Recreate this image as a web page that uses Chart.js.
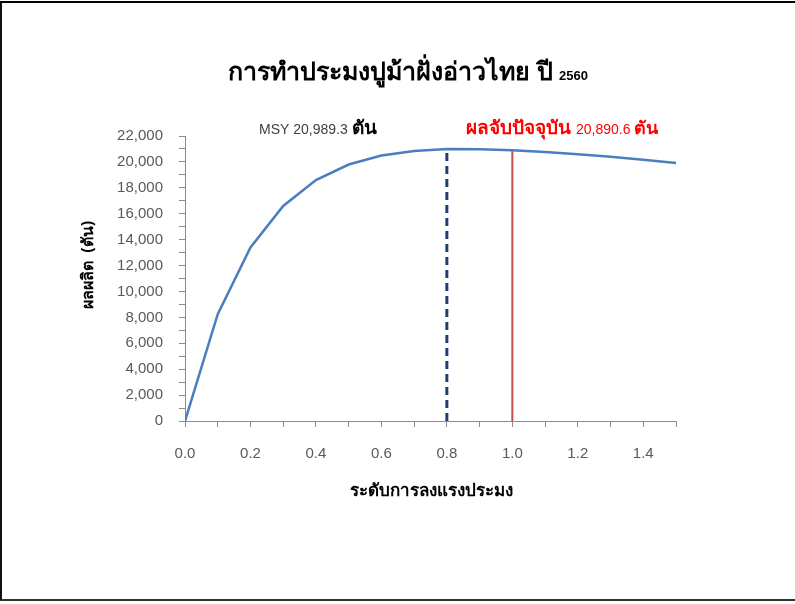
<!DOCTYPE html>
<html>
<head>
<meta charset="utf-8">
<script src="https://cdn.jsdelivr.net/npm/chart.js@4"></script>
<style>
  body { margin: 0; background: #fff; }
  #wrap { position: relative; width: 795px; height: 604px; }
  #frame { position: absolute; left: 0; top: 1px; width: 795px; height: 600px;
           border-top: 2px solid #000; border-left: 2px solid #111; border-bottom: 2px solid #333;
           box-sizing: border-box; pointer-events: none; }
</style>
</head>
<body>
<div id="wrap">
  <canvas id="mcChart" width="795" height="604"></canvas>
  <div id="frame"></div>
</div>
<script>
// fishing effort level (x) and yield in tonnes (y)
const effort = [0.0, 0.1, 0.2, 0.3, 0.4, 0.5, 0.6, 0.7, 0.8, 0.9, 1.0, 1.1, 1.2, 1.3, 1.4, 1.5];
const yieldTon = [0, 8250, 13400, 16600, 18600, 19800, 20500, 20850, 20989.3, 20970, 20890.6, 20760, 20590, 20400, 20170, 19920];

const msyEffort = 0.8;
const msyValue = 20989.3;
const currentEffort = 1.0;
const currentValue = 20890.6;

const titleMain = "การทำประมงปูม้าฝั่งอ่าวไทย ปี ";
const titleYear = "2560";
const yTitle = "ผลผลิต  (ตัน)";
const xTitle = "ระดับการลงแรงประมง";

const thaiFont = "'Noto Sans', 'DejaVu Sans', sans-serif";
const numFont = "'Liberation Sans', Arial, sans-serif";

function drawRuns(ctx, runs, x, y) {
  let cx = x;
  runs.forEach(r => {
    ctx.font = r.font;
    ctx.fillStyle = r.color;
    ctx.fillText(r.text, cx, y);
    cx += ctx.measureText(r.text).width;
  });
}

function runsWidth(ctx, runs) {
  let w = 0;
  runs.forEach(r => { ctx.font = r.font; w += ctx.measureText(r.text).width; });
  return w;
}

const textPlugin = {
  id: "texts",
  afterDraw(chart) {
    const ctx = chart.ctx;
    ctx.save();
    ctx.textBaseline = "alphabetic";
    ctx.textAlign = "left";

    // title
    const tRuns = [
      { text: titleMain, font: "bold 25px " + thaiFont, color: "#000" },
      { text: titleYear, font: "bold 13px " + numFont, color: "#000" }
    ];
    drawRuns(ctx, tRuns, 408 - runsWidth(ctx, tRuns) / 2, 80);

    // MSY note
    drawRuns(ctx, [
      { text: "MSY " + msyValue.toLocaleString("en-US", { minimumFractionDigits: 1 }) + " ", font: "14px " + numFont, color: "#404040" },
      { text: "ตัน", font: "bold 19px " + thaiFont, color: "#000" }
    ], 259, 134);

    // current catch note
    drawRuns(ctx, [
      { text: "ผลจับปัจจุบัน ", font: "bold 19px " + thaiFont, color: "#ff0000" },
      { text: currentValue.toLocaleString("en-US", { minimumFractionDigits: 1 }) + " ", font: "14px " + numFont, color: "#ff0000" },
      { text: "ตัน", font: "bold 18px " + thaiFont, color: "#ff0000" }
    ], 466, 134);

    // axis titles
    ctx.fillStyle = "#000";
    ctx.font = "bold 17px " + thaiFont;
    ctx.textAlign = "center";
    ctx.textBaseline = "middle";
    ctx.fillText(xTitle, 431, 491);
    ctx.font = "bold 16px " + thaiFont;
    ctx.translate(88, 265);
    ctx.rotate(-Math.PI / 2);
    ctx.fillText(yTitle, 0, 0);
    ctx.restore();
  }
};

const points = effort.map((e, i) => ({ x: e, y: yieldTon[i] }));

new Chart(document.getElementById("mcChart"), {
  type: "line",
  data: {
    datasets: [
      {
        data: points,
        borderColor: "#4a7ebf",
        borderWidth: 2.5,
        pointRadius: 0,
        tension: 0
      },
      {
        data: [{ x: msyEffort, y: 0 }, { x: msyEffort, y: msyValue }],
        borderColor: "#1f3f74",
        borderWidth: 3,
        borderDash: [8, 5],
        pointRadius: 0
      },
      {
        data: [{ x: currentEffort, y: 0 }, { x: currentEffort, y: currentValue }],
        borderColor: "#c0504d",
        borderWidth: 2,
        pointRadius: 0
      }
    ]
  },
  options: {
    responsive: false,
    animation: false,
    layout: { padding: { top: 136, right: 119, left: 0, bottom: 0 } },
    scales: {
      x: {
        type: "linear",
        min: 0,
        max: 1.5,
        afterFit: s => { s.height = 183; },
        ticks: {
          stepSize: 0.1,
          padding: 18,
          color: "#595959",
          font: { family: numFont, size: 15 },
          maxRotation: 0,
          autoSkip: false,
          callback: v => (Math.round(v * 10) % 2 === 0 ? v.toFixed(1) : "")
        },
        grid: { drawOnChartArea: false, drawTicks: true, tickLength: 6, color: "#8c8c8c" },
        border: { color: "#8c8c8c", width: 1 }
      },
      y: {
        min: 0,
        max: 22000,
        afterFit: s => { s.width = 185; },
        ticks: {
          stepSize: 1000,
          padding: 16,
          color: "#595959",
          font: { family: numFont, size: 15 },
          autoSkip: false,
          callback: v => (Math.round(v) % 2000 === 0 ? v.toLocaleString("en-US") : "")
        },
        grid: { drawOnChartArea: false, drawTicks: true, tickLength: 6, color: "#8c8c8c" },
        border: { color: "#8c8c8c", width: 1 }
      }
    },
    plugins: {
      legend: { display: false },
      tooltip: { enabled: false }
    }
  },
  plugins: [textPlugin]
});
</script>
</body>
</html>
